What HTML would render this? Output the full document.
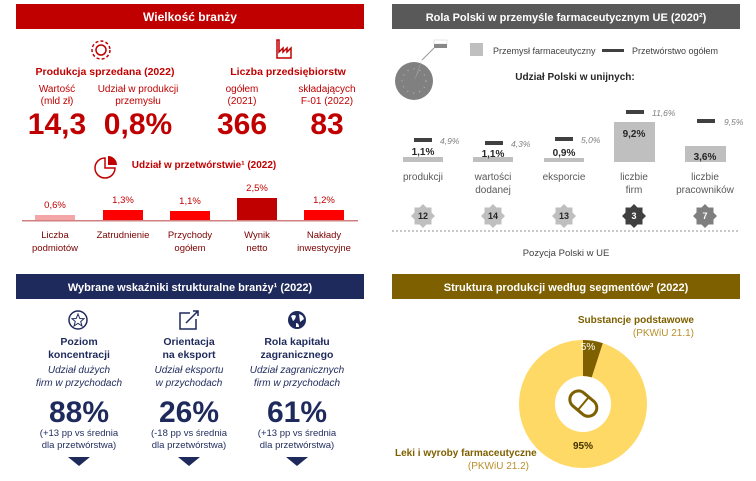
<!DOCTYPE html>
<html><head><meta charset="utf-8"><style>
html,body{margin:0;padding:0;background:#fff;}
svg text{font-family:"Liberation Sans","DejaVu Sans",sans-serif;}
</style></head><body>
<svg width="756" height="476" viewBox="0 0 756 476" xmlns="http://www.w3.org/2000/svg">
<rect x="16" y="4" width="348" height="25" fill="#c00000"/>
<text x="190" y="21" fill="#fff" font-size="12" font-weight="bold" text-anchor="middle">Wielkość branży</text>
<g fill="none" stroke="#c00000" stroke-width="1.5">
<circle cx="101" cy="50" r="5"/><circle cx="101" cy="50" r="9" stroke-dasharray="3 2.2"/>
<path d="M277 40 v18 h14 v-10 l-4 4 v-4 l-4 4 v-4 l-4 4 v-12 z"/>
<path d="M105 158 a10 10 0 1 0 10 10 h-10 z"/>
</g>
<path d="M108 156 v9 h9 a9 9 0 0 0 -9 -9z" fill="#c00000"/>
<g fill="#c00000" text-anchor="middle">
<text x="105" y="75" font-size="10.5" font-weight="bold">Produkcja sprzedana (2022)</text>
<text x="288" y="75" font-size="10.5" font-weight="bold">Liczba przedsiębiorstw</text>
<text x="57" y="92" font-size="10">Wartość</text><text x="57" y="104" font-size="10">(mld zł)</text>
<text x="138" y="92" font-size="10">Udział w produkcji</text><text x="138" y="104" font-size="10">przemysłu</text>
<text x="242" y="92" font-size="10">ogółem</text><text x="242" y="104" font-size="10">(2021)</text>
<text x="327" y="92" font-size="10">składających</text><text x="327" y="104" font-size="10">F-01 (2022)</text>
<text x="57" y="134" font-size="30" font-weight="bold">14,3</text>
<text x="138" y="134" font-size="30" font-weight="bold">0,8%</text>
<text x="242" y="134" font-size="30" font-weight="bold">366</text>
<text x="327" y="134" font-size="30" font-weight="bold">83</text>
<text x="204" y="168" font-size="10" font-weight="bold">Udział w przetwórstwie¹ (2022)</text>
</g>
<rect x="35" y="215" width="40" height="5" fill="#f4a6a6"/>
<rect x="103" y="210" width="40" height="10" fill="#ff0000"/>
<rect x="170" y="211" width="40" height="9" fill="#ff0000"/>
<rect x="237" y="198" width="40" height="22" fill="#c00000"/>
<rect x="304" y="210" width="40" height="10" fill="#ff0000"/>
<rect x="22" y="220" width="336" height="1.5" fill="#d08080"/>
<g fill="#c00000" font-size="9.5" text-anchor="middle">
<text x="55" y="208">0,6%</text><text x="123" y="203">1,3%</text><text x="190" y="204">1,1%</text><text x="257" y="191">2,5%</text><text x="324" y="203">1,2%</text>
</g>
<g fill="#7a0000" font-size="9.5" text-anchor="middle">
<text x="55" y="238">Liczba</text><text x="55" y="251">podmiotów</text>
<text x="123" y="238">Zatrudnienie</text>
<text x="190" y="238">Przychody</text><text x="190" y="251">ogółem</text>
<text x="257" y="238">Wynik</text><text x="257" y="251">netto</text>
<text x="324" y="238">Nakłady</text><text x="324" y="251">inwestycyjne</text>
</g>
<rect x="392" y="4" width="348" height="25" fill="#595959"/>
<text x="566" y="21" fill="#fff" font-size="11" font-weight="bold" text-anchor="middle">Rola Polski w przemyśle farmaceutycznym UE (2020²)</text>
<circle cx="414" cy="81" r="19" fill="#808080"/>
<circle cx="414" cy="81" r="12" fill="none" stroke="#bbb" stroke-width="1.3" stroke-dasharray="0.8 5.4"/>
<path d="M414 81 l8 -22 l-4 14z" fill="#a0a0a0"/>
<line x1="422" y1="60" x2="434" y2="48" stroke="#999"/>
<rect x="434" y="40" width="13" height="4" fill="#fff" stroke="#ccc" stroke-width="0.5"/><rect x="434" y="44" width="13" height="4" fill="#888"/>
<rect x="470" y="43" width="13" height="13" fill="#bfbfbf"/>
<text x="493" y="54" font-size="9" fill="#404040">Przemysł farmaceutyczny</text>
<rect x="602" y="49" width="22" height="3" fill="#404040"/>
<text x="632" y="54" font-size="9" fill="#404040">Przetwórstwo ogółem</text>
<text x="575" y="80" font-size="10" font-weight="bold" fill="#262626" text-anchor="middle">Udział Polski w unijnych:</text>
<g fill="#bfbfbf">
<rect x="403" y="157" width="40" height="5"/><rect x="473" y="157" width="40" height="5"/><rect x="544" y="158" width="40" height="4"/>
<rect x="614" y="122" width="41" height="40"/><rect x="685" y="146" width="41" height="16"/>
</g>
<g fill="#404040">
<rect x="414" y="138" width="18" height="4"/><rect x="485" y="141" width="18" height="4"/><rect x="555" y="137" width="18" height="4"/>
<rect x="626" y="110" width="18" height="4"/><rect x="697" y="119" width="18" height="4"/>
</g>
<g font-size="10" font-weight="bold" fill="#262626" text-anchor="middle">
<text x="423" y="155">1,1%</text><text x="493" y="157">1,1%</text><text x="564" y="156">0,9%</text><text x="634" y="137">9,2%</text><text x="705" y="160">3,6%</text>
</g>
<g font-size="8.5" font-style="italic" fill="#7f7f7f">
<text x="440" y="144">4,9%</text><text x="511" y="147">4,3%</text><text x="581" y="143">5,0%</text><text x="652" y="116">11,6%</text><text x="724" y="125">9,5%</text>
</g>
<g font-size="10" fill="#595959" text-anchor="middle">
<text x="423" y="180">produkcji</text>
<text x="493" y="180">wartości</text><text x="493" y="193">dodanej</text>
<text x="564" y="180">eksporcie</text>
<text x="634" y="180">liczbie</text><text x="634" y="193">firm</text>
<text x="705" y="180">liczbie</text><text x="705" y="193">pracowników</text>
</g>
<defs><polygon id="st" points="0,-12 3.5,-8.5 8.5,-8.5 8.5,-3.5 12,0 8.5,3.5 8.5,8.5 3.5,8.5 0,12 -3.5,8.5 -8.5,8.5 -8.5,3.5 -12,0 -8.5,-3.5 -8.5,-8.5 -3.5,-8.5"/></defs>
<use href="#st" x="423" y="216" fill="#bfbfbf"/><use href="#st" x="493" y="216" fill="#bfbfbf"/><use href="#st" x="564" y="216" fill="#bfbfbf"/>
<use href="#st" x="634" y="216" fill="#404040"/><use href="#st" x="705" y="216" fill="#7f7f7f"/>
<g font-size="9" font-weight="bold" text-anchor="middle">
<text x="423" y="219" fill="#262626">12</text><text x="493" y="219" fill="#262626">14</text><text x="564" y="219" fill="#262626">13</text><text x="634" y="219" fill="#fff">3</text><text x="705" y="219" fill="#fff">7</text>
</g>
<line x1="392" y1="231" x2="740" y2="231" stroke="#a6a6a6" stroke-width="1.2" stroke-dasharray="2 2"/>
<text x="566" y="256" font-size="9.5" fill="#404040" text-anchor="middle">Pozycja Polski w UE</text>
<rect x="16" y="274" width="348" height="25" fill="#1f2a5c"/>
<text x="190" y="291" fill="#fff" font-size="11" font-weight="bold" text-anchor="middle">Wybrane wskaźniki strukturalne branży¹ (2022)</text>
<g fill="none" stroke="#1f2a5c" stroke-width="1.5">
<circle cx="78" cy="320" r="9"/><polygon points="78,314 79.8,318.5 84,318.7 80.7,321.5 82,326 78,323.3 74,326 75.3,321.5 72,318.7 76.2,318.5" stroke-width="1"/>
<path d="M190 313 h-10 v16 h16 v-10"/><path d="M186 323 l12 -12 m-5 0 h5 v5"/>
</g>
<circle cx="297" cy="320" r="9" fill="#1f2a5c"/><path d="M291 316 q3 -2 5 0 q-1 4 -3 5z M299 314 q4 1 5 5 l-4 3z M296 323 q3 0 3 4 l-3 0z" fill="#fff"/>
<g fill="#1f2a5c" text-anchor="middle">
<text x="79" y="345" font-size="10.5" font-weight="bold">Poziom</text><text x="79" y="358" font-size="10.5" font-weight="bold">koncentracji</text>
<text x="189" y="345" font-size="10.5" font-weight="bold">Orientacja</text><text x="189" y="358" font-size="10.5" font-weight="bold">na eksport</text>
<text x="297" y="345" font-size="10.5" font-weight="bold">Rola kapitału</text><text x="297" y="358" font-size="10.5" font-weight="bold">zagranicznego</text>
<g font-size="10" font-style="italic"><text x="79" y="373">Udział dużych</text><text x="79" y="386">firm w przychodach</text>
<text x="189" y="373">Udział eksportu</text><text x="189" y="386">w przychodach</text>
<text x="297" y="373">Udział zagranicznych</text><text x="297" y="386">firm w przychodach</text></g>
<g font-size="30" font-weight="bold"><text x="79" y="422">88%</text><text x="189" y="422">26%</text><text x="297" y="422">61%</text></g>
<g font-size="9.5"><text x="79" y="436">(+13 pp vs średnia</text><text x="79" y="448">dla przetwórstwa)</text>
<text x="189" y="436">(-18 pp vs średnia</text><text x="189" y="448">dla przetwórstwa)</text>
<text x="297" y="436">(+13 pp vs średnia</text><text x="297" y="448">dla przetwórstwa)</text></g>
</g>
<g fill="#1f2a5c"><polygon points="68,457 90,457 79,466"/><polygon points="178,457 200,457 189,466"/><polygon points="286,457 308,457 297,466"/></g>
<rect x="392" y="274" width="348" height="25" fill="#7f6000"/>
<text x="566" y="291" fill="#fff" font-size="11" font-weight="bold" text-anchor="middle">Struktura produkcji według segmentów³ (2022)</text>
<circle cx="583" cy="404" r="46" fill="none" stroke="#ffd966" stroke-width="36"/>
<path d="M583 340 A64 64 0 0 1 602.8 343.1 L591.7 377.4 A28 28 0 0 0 583 376 Z" fill="#7f6000"/>
<g transform="rotate(40 583 404)" fill="none" stroke="#7f6000" stroke-width="3"><rect x="568" y="395" width="30" height="17" rx="8.5"/><line x1="583" y1="395" x2="583" y2="412" stroke-width="2"/></g>
<text x="588" y="350" font-size="10" fill="#fff" text-anchor="middle">5%</text>
<text x="583" y="449" font-size="10" font-weight="bold" fill="#3f3000" text-anchor="middle">95%</text>
<text x="694" y="323" font-size="10" font-weight="bold" fill="#7f6000" text-anchor="end">Substancje podstawowe</text>
<text x="694" y="336" font-size="10" fill="#b8902a" text-anchor="end">(PKWiU 21.1)</text>
<text x="395" y="456" font-size="10" font-weight="bold" fill="#7f6000">Leki i wyroby farmaceutyczne</text>
<text x="529" y="469" font-size="10" fill="#b8902a" text-anchor="end">(PKWiU 21.2)</text>
</svg>
</body></html>
